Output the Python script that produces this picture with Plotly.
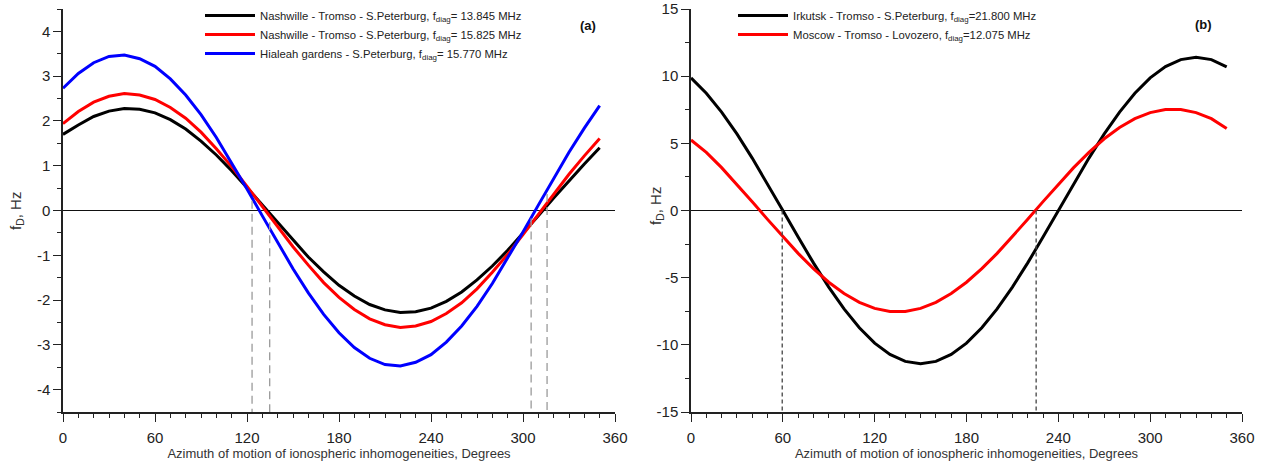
import plotly.graph_objects as go

# ---------------- data ----------------
AZIMUTH = [0, 10, 20, 30, 40, 50, 60, 70, 80, 90, 100, 110, 120, 130, 140, 150, 160, 170,
           180, 190, 200, 210, 220, 230, 240, 250, 260, 270, 280, 290, 300, 310, 320, 330, 340, 350]

# panel (a)
NASH_TS_13845 = [1.70, 1.91, 2.10, 2.22, 2.28, 2.26, 2.18, 2.03, 1.82, 1.55, 1.24, 0.89, 0.51, 0.12,
                 -0.28, -0.67, -1.04, -1.37, -1.67, -1.91, -2.10, -2.22, -2.28, -2.26, -2.18, -2.03,
                 -1.82, -1.55, -1.24, -0.89, -0.51, -0.12, 0.28, 0.67, 1.04, 1.40]
NASH_TS_15825 = [1.94, 2.21, 2.42, 2.55, 2.61, 2.58, 2.48, 2.30, 2.06, 1.75, 1.38, 0.98, 0.54, 0.09,
                 -0.36, -0.81, -1.22, -1.61, -1.94, -2.21, -2.42, -2.55, -2.61, -2.58, -2.48, -2.30,
                 -2.06, -1.75, -1.38, -0.98, -0.54, -0.09, 0.36, 0.81, 1.22, 1.61]
HIAL_SP_15770 = [2.73, 3.06, 3.30, 3.44, 3.47, 3.39, 3.22, 2.94, 2.58, 2.14, 1.63, 1.07, 0.48, -0.12,
                 -0.72, -1.30, -1.84, -2.32, -2.73, -3.06, -3.30, -3.44, -3.47, -3.39, -3.22, -2.94,
                 -2.58, -2.14, -1.63, -1.07, -0.48, 0.12, 0.72, 1.30, 1.84, 2.34]

# panel (b)
IRK_TS_21800 = [9.87, 8.73, 7.33, 5.70, 3.90, 1.98, 0.00, -1.98, -3.90, -5.70, -7.33, -8.73, -9.87,
                -10.71, -11.23, -11.40, -11.23, -10.71, -9.87, -8.73, -7.33, -5.70, -3.90, -1.98,
                0.00, 1.98, 3.90, 5.70, 7.33, 8.73, 9.87, 10.71, 11.23, 11.40, 11.23, 10.69]
MOS_TL_12075 = [5.25, 4.33, 3.19, 1.96, 0.66, -0.66, -1.96, -3.19, -4.33, -5.34, -6.18, -6.84, -7.29,
                -7.52, -7.52, -7.29, -6.84, -6.18, -5.34, -4.33, -3.19, -1.96, -0.66, 0.66, 1.96,
                3.19, 4.33, 5.34, 6.18, 6.84, 7.29, 7.52, 7.52, 7.29, 6.84, 6.10]

LABELS_A = ["Nashwille - Tromso - S.Peterburg, f<sub>diag</sub>= 13.845 MHz",
            "Nashwille - Tromso - S.Peterburg, f<sub>diag</sub>= 15.825 MHz",
            "Hialeah gardens - S.Peterburg, f<sub>diag</sub>= 15.770 MHz"]
LABELS_B = ["Irkutsk - Tromso - S.Peterburg, f<sub>diag</sub>=21.800 MHz",
            "Moscow - Tromso - Lovozero, f<sub>diag</sub>=12.075 MHz"]

# tick values / labels
X_TICKS = [0, 60, 120, 180, 240, 300, 360]
X_TICK_TEXT = ["0", "60", "120", "180", "240", "300", "360"]
Y_TICKS_A = [-4, -3, -2, -1, 0, 1, 2, 3, 4]
Y_TICK_TEXT_A = ["-4", "-3", "-2", "-1", "0", "1", "2", "3", "4"]
Y_TICKS_B = [-15, -10, -5, 0, 5, 10, 15]
Y_TICK_TEXT_B = ["-15", "-10", "-5", "0", "5", "10", "15"]

# dashed marker lines: azimuth, top value, bottom value
DASH_A_X = [123.3, 134.8, 305.3, 315.7]
DASH_A_TOP = [0.22, -0.26, -0.18, 0.37]
DASH_A_BOTTOM = -4.5
DASH_B_X = [59.6, 225.5]
DASH_B_TOP = [0.0, 0.0]
DASH_B_BOTTOM = -15

X_TITLE = "Azimuth of motion of ionospheric inhomogeneities, Degrees"
Y_TITLE = "f<sub>D</sub>, Hz"

FONT = "Liberation Sans, Arial, sans-serif"

fig = go.Figure()

for ys, name, col in zip([NASH_TS_13845, NASH_TS_15825, HIAL_SP_15770], LABELS_A,
                         ["#000000", "#ff0000", "#0000ff"]):
    fig.add_trace(go.Scatter(x=AZIMUTH, y=ys, mode="lines", name=name,
                             line=dict(color=col, width=3), xaxis="x", yaxis="y",
                             legend="legend"))
for xv, top in zip(DASH_A_X, DASH_A_TOP):
    fig.add_trace(go.Scatter(x=[xv, xv], y=[top, DASH_A_BOTTOM], mode="lines",
                             line=dict(color="#9a9a9a", width=1.3, dash="8px,5px"),
                             showlegend=False, xaxis="x", yaxis="y", hoverinfo="skip"))

for ys, name, col in zip([IRK_TS_21800, MOS_TL_12075], LABELS_B, ["#000000", "#ff0000"]):
    fig.add_trace(go.Scatter(x=AZIMUTH, y=ys, mode="lines", name=name,
                             line=dict(color=col, width=3), xaxis="x2", yaxis="y2",
                             legend="legend2"))
for xv, top in zip(DASH_B_X, DASH_B_TOP):
    fig.add_trace(go.Scatter(x=[xv, xv], y=[top, DASH_B_BOTTOM], mode="lines",
                             line=dict(color="#444444", width=1.3, dash="4px,3px"),
                             showlegend=False, xaxis="x2", yaxis="y2", hoverinfo="skip"))

W, H = 1271, 463
ML, MR, MT, MB = 63, 29, 9, 51
pw = W - ML - MR
ph = H - MT - MB


def px_x(p):
    return (p - ML) / pw


def px_y(p):
    return 1 - (p - MT) / ph


common_x = dict(range=[0, 360], tickmode="array", tickvals=X_TICKS, ticktext=X_TICK_TEXT,
                ticks="outside", ticklen=8, tickwidth=1.3, tickcolor="#222", showline=True,
                linecolor="#222", linewidth=1.5, showgrid=False, zeroline=False,
                automargin=False,
                tickfont=dict(size=15, color="#222", family=FONT),
                minor=dict(ticks="outside", ticklen=4, tickwidth=1.2, tickcolor="#222",
                           dtick=10, tick0=0, showgrid=False),
                title=dict(text=X_TITLE, font=dict(size=13, color="#333", family=FONT), standoff=4),
                ticklabelstandoff=3)
common_y = dict(ticks="outside", ticklen=8, tickwidth=1.3, tickcolor="#222", showline=True,
                linecolor="#222", linewidth=1.5, showgrid=False, zeroline=True,
                zerolinecolor="#111", zerolinewidth=1.3, automargin=False,
                tickfont=dict(size=15, color="#222", family=FONT), tickmode="array")

fig.update_layout(
    width=W, height=H,
    margin=dict(l=ML, r=MR, t=MT, b=MB, autoexpand=False),
    paper_bgcolor="white", plot_bgcolor="white",
    font=dict(family=FONT, color="#222"),
    xaxis=dict(common_x, domain=[0, 552 / pw], anchor="y"),
    xaxis2=dict(common_x, domain=[(691 - ML) / pw, 1], anchor="y2"),
    yaxis=dict(common_y, range=[-4.5, 4.5], tickvals=Y_TICKS_A, ticktext=Y_TICK_TEXT_A,
               minor=dict(ticks="outside", ticklen=4, tickwidth=1.2, tickcolor="#222",
                          dtick=0.5, tick0=0, showgrid=False),
               anchor="x"),
    yaxis2=dict(common_y, range=[-15, 15], tickvals=Y_TICKS_B, ticktext=Y_TICK_TEXT_B,
                minor=dict(ticks="outside", ticklen=4, tickwidth=1.2, tickcolor="#222",
                           dtick=2.5, tick0=0, showgrid=False),
                anchor="x2"),
    legend=dict(x=px_x(200), xanchor="left", y=1 + 8 / ph, yanchor="top",
                bgcolor="rgba(0,0,0,0)", borderwidth=0, itemwidth=50,
                font=dict(size=11.3, color="#222", family=FONT), tracegroupgap=0),
    legend2=dict(x=px_x(733), xanchor="left", y=1 + 8 / ph, yanchor="top",
                 bgcolor="rgba(0,0,0,0)", borderwidth=0, itemwidth=50,
                 font=dict(size=11.3, color="#222", family=FONT), tracegroupgap=0),
    annotations=[
        dict(text="<b>(a)</b>", x=px_x(588), y=px_y(25), xref="paper", yref="paper",
             xanchor="center", yanchor="middle",
             showarrow=False, font=dict(size=13, color="#111", family=FONT)),
        dict(text="<b>(b)</b>", x=px_x(1203), y=px_y(24), xref="paper", yref="paper",
             xanchor="center", yanchor="middle",
             showarrow=False, font=dict(size=13, color="#111", family=FONT)),
        dict(text=Y_TITLE, x=px_x(17), y=px_y(211), xref="paper", yref="paper",
             xanchor="center", yanchor="middle",
             textangle=-90, showarrow=False, font=dict(size=15, color="#333", family=FONT)),
        dict(text=Y_TITLE, x=px_x(656), y=px_y(206), xref="paper", yref="paper",
             xanchor="center", yanchor="middle",
             textangle=-90, showarrow=False, font=dict(size=15, color="#333", family=FONT)),
    ],
    showlegend=True,
)

fig.write_html("out.html", config={"displayModeBar": False},
               post_script="document.body.style.margin='0';document.body.style.padding='0';")
